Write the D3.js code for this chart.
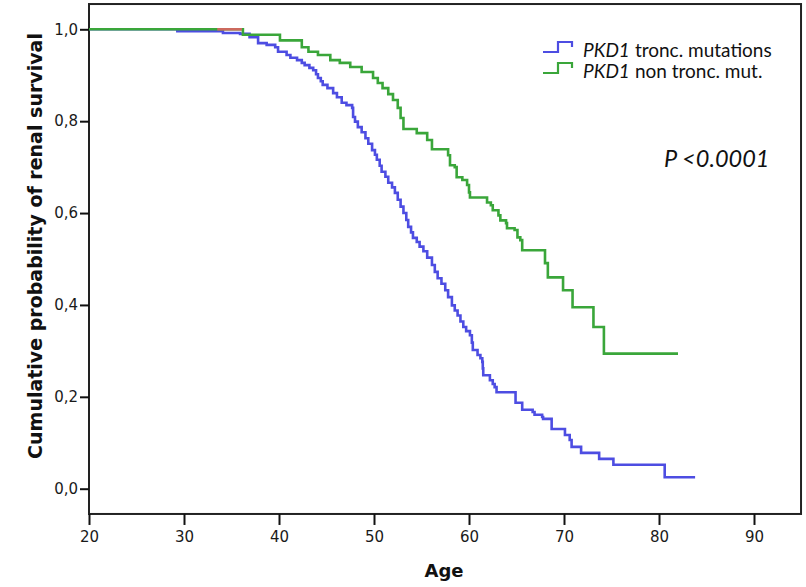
<!DOCTYPE html>
<html lang="en">
<head>
<meta charset="UTF-8">
<script src="https://d3js.org/d3.v7.min.js"></script>
<title>Renal survival</title>
<style>
  body { margin: 0; background: #fff; }
  .axis text { font-family: "DejaVu Sans", Verdana, sans-serif; font-size: 15px; fill: #1a1a1a; }
  .axis line, .axis path { stroke: #111; stroke-width: 2; }
  .title { font-family: "DejaVu Sans", Verdana, sans-serif; font-weight: bold; fill: #111; }
  .leg { font-family: Lato, "Open Sans", sans-serif; fill: #111; }
</style>
</head>
<body>
<svg id="chart" width="806" height="587"></svg>
<script>
// Kaplan-Meier steps (age, survival)
const truncAge  = [20, 29.3, 34.1, 35.9, 36.9, 37.8, 38.7, 39.6, 39.9, 40.8, 41.2, 41.9, 42.4, 42.7, 43.2, 43.6, 43.9, 44.1, 44.4, 44.6, 45.1, 45.7, 46.1, 46.6, 47.1, 47.7, 47.8, 48.0, 48.3, 48.7, 49.1, 49.4, 49.8, 50.1, 50.3, 50.6, 50.8, 51.2, 51.5, 51.9, 52.2, 52.5, 52.8, 53.1, 53.4, 53.6, 53.9, 54.1, 54.5, 54.8, 55.2, 55.6, 56.1, 56.4, 56.7, 57.1, 57.5, 57.8, 58.2, 58.5, 58.8, 59.1, 59.4, 59.7, 60.1, 60.3, 60.4, 60.9, 61.2, 61.4, 61.45, 61.5, 62.2, 62.5, 62.7, 62.9, 64.9, 65.6, 66.7, 66.9, 67.7, 67.8, 68.7, 70.1, 70.6, 70.8, 71.8, 73.7, 75.2, 80.6, 83.8];
const truncSurv = [1.0, 0.996, 0.992, 0.990, 0.983, 0.970, 0.966, 0.961, 0.951, 0.944, 0.938, 0.933, 0.927, 0.922, 0.916, 0.911, 0.902, 0.894, 0.887, 0.879, 0.872, 0.861, 0.852, 0.840, 0.835, 0.829, 0.809, 0.799, 0.787, 0.776, 0.763, 0.751, 0.737, 0.727, 0.716, 0.703, 0.690, 0.679, 0.666, 0.656, 0.644, 0.629, 0.614, 0.600, 0.585, 0.570, 0.558, 0.546, 0.537, 0.527, 0.517, 0.503, 0.487, 0.472, 0.458, 0.446, 0.432, 0.417, 0.399, 0.388, 0.377, 0.364, 0.352, 0.343, 0.334, 0.318, 0.302, 0.291, 0.284, 0.276, 0.262, 0.247, 0.236, 0.228, 0.221, 0.210, 0.187, 0.172, 0.167, 0.161, 0.156, 0.152, 0.130, 0.117, 0.106, 0.091, 0.078, 0.065, 0.052, 0.025, 0.025];

const nonTruncAge  = [20, 36.2, 40.1, 42.4, 43.1, 44.1, 45.4, 46.4, 47.5, 48.7, 49.9, 50.4, 50.9, 51.5, 52.0, 52.5, 52.8, 53.1, 54.5, 55.6, 56.1, 57.8, 58.0, 58.5, 58.7, 59.3, 59.8, 60.0, 60.1, 61.9, 62.3, 62.5, 63.1, 63.3, 63.9, 64.0, 64.8, 65.1, 65.4, 65.6, 68.0, 68.3, 69.9, 70.9, 73.1, 74.2, 82.0];
const nonTruncSurv = [1.0, 0.988, 0.976, 0.961, 0.951, 0.944, 0.933, 0.927, 0.918, 0.907, 0.894, 0.883, 0.872, 0.859, 0.846, 0.829, 0.807, 0.783, 0.774, 0.759, 0.739, 0.726, 0.704, 0.700, 0.678, 0.672, 0.661, 0.645, 0.634, 0.623, 0.617, 0.606, 0.595, 0.584, 0.578, 0.567, 0.563, 0.547, 0.541, 0.519, 0.491, 0.460, 0.432, 0.395, 0.352, 0.294, 0.294];

// small third curve peeking out at the top
const otherAge  = [33.5, 36.1];
const otherSurv = [1.0, 1.0];

const xTicks = [20, 30, 40, 50, 60, 70, 80, 90];
const yTicks = [0, 0.2, 0.4, 0.6, 0.8, 1.0];
const legendGene = ["PKD1", "PKD1"];
const legendRest = ["tronc. mutations", "non tronc. mut."];
const pText = "P <0.0001";

const svg = d3.select("#chart");
const x = d3.scaleLinear().domain([20, 90]).range([89, 754]);
const y = d3.scaleLinear().domain([0, 1]).range([488.7, 29.3]);
const xMax = 94.95, yMin = -0.055, yMax = 1.055;

// frame
svg.append("rect")
  .attr("x", x(20)).attr("y", y(yMax))
  .attr("width", x(xMax) - x(20)).attr("height", y(yMin) - y(yMax))
  .attr("fill", "none").attr("stroke", "#222").attr("stroke-width", 2);

let bottomAxis = d3.axisBottom(x).tickValues(xTicks).tickSize(11).tickPadding(6).tickSizeOuter(0);
svg.append("g").attr("class", "x axis")
  .attr("transform", "translate(0," + y(yMin) + ")")
  .call(bottomAxis)
  .call(g => g.select(".domain").remove());

let leftAxis = d3.axisLeft(y).tickValues(yTicks).tickSize(9).tickPadding(2)
  .tickFormat(d => d3.format(".1f")(d).replace(".", ","));
svg.append("g").attr("class", "y axis")
  .attr("transform", "translate(" + x(20) + ",0)")
  .call(leftAxis)
  .call(g => g.select(".domain").remove());

const line = d3.line().curve(d3.curveStepAfter).x(d => x(d[0])).y(d => y(d[1]));
const series = [
  {ages: truncAge, surv: truncSurv, color: "#4d4de2"},
  {ages: nonTruncAge, surv: nonTruncSurv, color: "#3aa63a"},
  {ages: otherAge, surv: otherSurv, color: "#cc6a5e"}
];
svg.append("g").selectAll("path").data(series).join("path")
  .attr("d", s => line(d3.zip(s.ages, s.surv)))
  .attr("fill", "none")
  .attr("stroke", s => s.color)
  .attr("stroke-width", 2.6);

// axis titles
svg.append("text").attr("class", "title")
  .attr("x", 444).attr("y", 577).attr("text-anchor", "middle")
  .style("font-size", "18px").text("Age");
svg.append("text").attr("class", "title")
  .attr("transform", "translate(42,246) rotate(-90)").attr("text-anchor", "middle")
  .style("font-size", "19px").text("Cumulative probability of renal survival");

// legend
const leg = svg.append("g");
legendGene.forEach((gene, i) => {
  const ly = 52 + i * 21;
  leg.append("path")
    .attr("d", `M543,${ly} H558 V${ly - 10} H572 V${ly - 5}`)
    .attr("fill", "none").attr("stroke", series[i].color).attr("stroke-width", 2.2);
  const g1 = leg.append("text").attr("class", "leg")
    .attr("x", 583).attr("y", ly + 5)
    .style("font-size", "19px").style("font-style", "italic")
    .text(gene);
  const w = g1.node().getComputedTextLength();
  leg.append("text").attr("class", "leg")
    .attr("x", 583 + w + 5).attr("y", ly + 5)
    .style("font-size", "19px")
    .text(legendRest[i]);
});

svg.append("text").attr("class", "leg")
  .attr("x", 664).attr("y", 167)
  .style("font-size", "23.5px").style("font-style", "italic")
  .text(pText);
</script>
</body>
</html>
